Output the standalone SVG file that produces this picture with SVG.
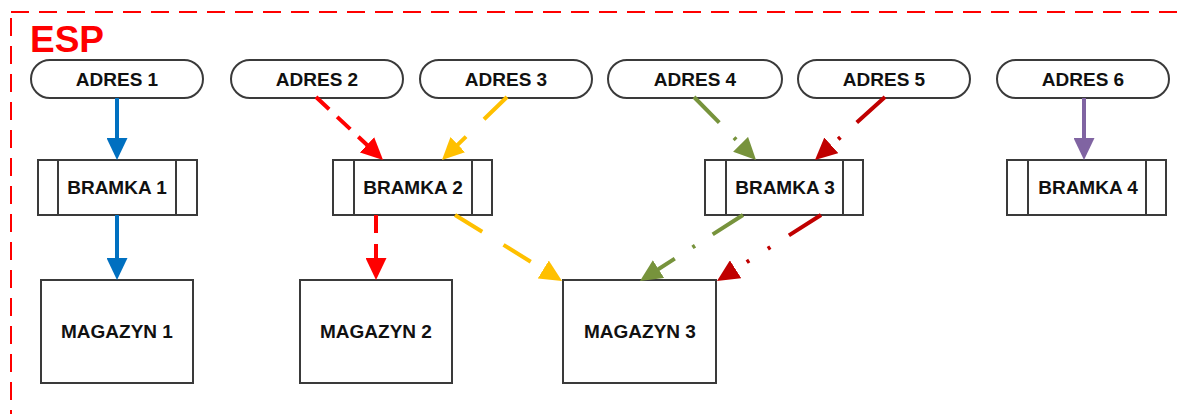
<svg xmlns="http://www.w3.org/2000/svg" width="1177" height="414" viewBox="0 0 1177 414">
<style>
.box{fill:#fff;stroke:#3a3a3a;stroke-width:2}
.t{font-family:"Liberation Sans",Arial,sans-serif;font-weight:bold;font-size:19px;fill:#111;text-anchor:middle}
.c{fill:none;stroke-width:4;stroke-linecap:butt}
</style>
<defs>
<marker id="mb" markerUnits="userSpaceOnUse" markerWidth="22" markerHeight="21" viewBox="0 0 22 21" refX="10" refY="10.5" orient="auto"><path d="M0,0L22,10.5L0,21z" fill="#0070C0"/></marker>
<marker id="mr" markerUnits="userSpaceOnUse" markerWidth="22" markerHeight="21" viewBox="0 0 22 21" refX="10" refY="10.5" orient="auto"><path d="M0,0L22,10.5L0,21z" fill="#FF0000"/></marker>
<marker id="my" markerUnits="userSpaceOnUse" markerWidth="22" markerHeight="21" viewBox="0 0 22 21" refX="10" refY="10.5" orient="auto"><path d="M0,0L22,10.5L0,21z" fill="#FFC000"/></marker>
<marker id="mg" markerUnits="userSpaceOnUse" markerWidth="22" markerHeight="21" viewBox="0 0 22 21" refX="10" refY="10.5" orient="auto"><path d="M0,0L22,10.5L0,21z" fill="#77933C"/></marker>
<marker id="md" markerUnits="userSpaceOnUse" markerWidth="22" markerHeight="21" viewBox="0 0 22 21" refX="10" refY="10.5" orient="auto"><path d="M0,0L22,10.5L0,21z" fill="#C00000"/></marker>
<marker id="mp" markerUnits="userSpaceOnUse" markerWidth="22" markerHeight="21" viewBox="0 0 22 21" refX="10" refY="10.5" orient="auto"><path d="M0,0L22,10.5L0,21z" fill="#8064A2"/></marker>
</defs>
<rect width="1177" height="414" fill="#fff"/>
<g id="esp">
<rect x="11" y="12" width="1200" height="450" fill="none" stroke="#FF0000" stroke-width="2" stroke-dasharray="18,10"/>
<text x="30" y="52" font-family="Liberation Sans,Arial,sans-serif" font-weight="bold" font-size="37" fill="#FF0000">ESP</text>
</g>
<g id="adres1"><rect class="box" x="31" y="60" width="172" height="38" rx="19"/><text class="t" x="117" y="86">ADRES 1</text></g>
<g id="adres2"><rect class="box" x="231" y="60" width="172" height="38" rx="19"/><text class="t" x="317" y="86">ADRES 2</text></g>
<g id="adres3"><rect class="box" x="420" y="60" width="172" height="38" rx="19"/><text class="t" x="506" y="86">ADRES 3</text></g>
<g id="adres4"><rect class="box" x="608" y="60" width="174" height="38" rx="19"/><text class="t" x="695" y="86">ADRES 4</text></g>
<g id="adres5"><rect class="box" x="798" y="60" width="172" height="38" rx="19"/><text class="t" x="884" y="86">ADRES 5</text></g>
<g id="adres6"><rect class="box" x="997" y="60" width="172" height="38" rx="19"/><text class="t" x="1083" y="86">ADRES 6</text></g>
<g id="bramka1"><rect class="box" x="38" y="160" width="159" height="55"/><path class="box" d="M58,160V215M176,160V215"/><text class="t" x="117" y="194">BRAMKA 1</text></g>
<g id="bramka2"><rect class="box" x="333" y="160" width="159" height="55"/><path class="box" d="M354,160V215M472,160V215"/><text class="t" x="413" y="194">BRAMKA 2</text></g>
<g id="bramka3"><rect class="box" x="705" y="160" width="158" height="55"/><path class="box" d="M726,160V215M843,160V215"/><text class="t" x="785" y="194">BRAMKA 3</text></g>
<g id="bramka4"><rect class="box" x="1007" y="160" width="159" height="55"/><path class="box" d="M1028,160V215M1146,160V215"/><text class="t" x="1088" y="194">BRAMKA 4</text></g>
<g id="magazyn1"><rect class="box" x="41" y="280" width="152" height="103"/><text class="t" x="117" y="338">MAGAZYN 1</text></g>
<g id="magazyn2"><rect class="box" x="300" y="280" width="152" height="103"/><text class="t" x="376" y="338">MAGAZYN 2</text></g>
<g id="magazyn3"><rect class="box" x="563" y="280" width="153" height="103"/><text class="t" x="640" y="338">MAGAZYN 3</text></g>
<g id="connectors">
<line class="c" x1="117" y1="98" x2="117" y2="148" stroke="#0070C0" marker-end="url(#mb)"/>
<line class="c" x1="117" y1="215" x2="117" y2="268" stroke="#0070C0" marker-end="url(#mb)"/>
<line class="c" x1="316" y1="97" x2="374.3" y2="151.7" stroke="#FF0000" stroke-dasharray="18,11" marker-end="url(#mr)"/>
<line class="c" x1="376" y1="215" x2="376" y2="268" stroke="#FF0000" stroke-dasharray="18,11" marker-end="url(#mr)"/>
<line class="c" x1="507" y1="97" x2="450.6" y2="151.6" stroke="#FFC000" stroke-dasharray="32,25" marker-end="url(#my)"/>
<line class="c" x1="455" y1="215" x2="551.8" y2="274.7" stroke="#FFC000" stroke-dasharray="32,25" marker-end="url(#my)"/>
<line class="c" x1="694" y1="97" x2="747.6" y2="151.4" stroke="#77933C" stroke-dasharray="36,21,3,21" marker-end="url(#mg)"/>
<line class="c" x1="743" y1="215" x2="650.1" y2="274.5" stroke="#77933C" stroke-dasharray="36,21,3,21" marker-end="url(#mg)"/>
<line class="c" x1="885" y1="97" x2="823.9" y2="152" stroke="#C00000" stroke-dasharray="38,22,3,22,3,22" marker-end="url(#md)"/>
<line class="c" x1="821" y1="215" x2="727.1" y2="274.6" stroke="#C00000" stroke-dasharray="38,22,3,22,3,22" marker-end="url(#md)"/>
<line class="c" x1="1084" y1="98" x2="1084" y2="148" stroke="#8064A2" marker-end="url(#mp)"/>
</g>
</svg>
